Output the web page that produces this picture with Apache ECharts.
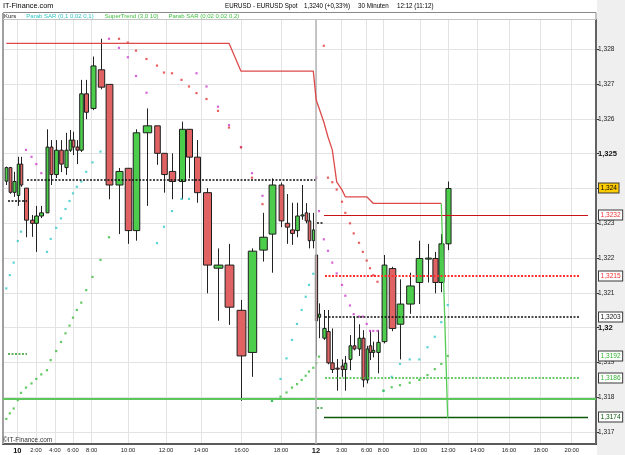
<!DOCTYPE html>
<html><head><meta charset="utf-8">
<script src="https://cdn.jsdelivr.net/npm/echarts@6/dist/echarts.min.js"></script>
<style>html,body{margin:0;padding:0;background:#fff}#c{width:625px;height:455px}</style>
</head><body><div id="c"></div>
<script>
// ---------- DATA ----------
// position of each 30-min bar along the (activity-compressed) time axis
const barPos = [6.3, 9.8, 13.7, 17.8, 21, 26, 31.5, 36.3, 41.3, 47, 50.7, 56.2, 61, 65.5, 69.5, 73, 76.8, 81.3, 86.2, 92.5,
  100.5, 109, 119, 127.8, 136, 146.5, 157, 164, 172, 181.5, 189, 196.5, 206.5, 218, 229, 241, 252, 262.5, 272, 280.5,
  286.5, 292, 297, 301.7, 305.7, 309, 313.3,
  316.2, 319, 323.8, 328, 332.3, 336.7, 342, 345.3, 350, 353.7, 359, 362.8, 366.7, 370, 373.3, 377.5, 383.5, 391.7, 400,
  409.7, 419.3, 427.5, 434.8, 441.3, 447.7];
const opens = [1.32421,1.32460,1.32389,1.32380,1.32470,1.32401,1.32309,1.32300,1.32321,1.32330,
  1.32519,1.32440,1.32510,1.32460,1.32510,1.32539,1.32519,1.32510,1.32672,1.32630,
  1.32741,1.32699,1.32410,1.32458,1.32279,1.32560,1.32580,1.32501,1.32449,1.32420,
  1.32570,1.32490,1.32388,1.32171,1.32180,1.32050,1.31929,1.32223,1.32269,1.32410,
  1.32300,1.32281,1.32279,1.32321,1.32330,1.32307,1.32250,
  1.32209,1.32030,1.31970,1.31989,1.31899,1.31884,1.31890,1.31880,1.31909,1.31948,
  1.31939,1.31970,1.31850,1.31948,1.31929,1.31929,1.31960,1.32170,1.32010,1.32068,
  1.32130,1.32199,1.32199,1.32130,1.32241];
const highs = [1.32463,1.32462,1.32448,1.32491,1.32491,1.32401,1.32324,1.32350,1.32350,1.32570,
  1.32539,1.32539,1.32539,1.32560,1.32568,1.32563,1.32539,1.32712,1.32712,1.32779,
  1.32830,1.32699,1.32459,1.32458,1.32570,1.32630,1.32580,1.32501,1.32501,1.32592,
  1.32570,1.32539,1.32401,1.32228,1.32241,1.32080,1.32228,1.32330,1.32429,1.32417,
  1.32384,1.32359,1.32359,1.32410,1.32358,1.32330,1.32330,
  1.32209,1.32070,1.32051,1.32051,1.31998,1.31910,1.31909,1.31919,1.31979,1.32032,
  1.32010,1.31993,1.31948,1.31993,1.31960,1.31993,1.32209,1.32175,1.32139,1.32158,
  1.32250,1.32241,1.32218,1.32269,1.32420];
const lows = [1.32410,1.32385,1.32376,1.32350,1.32405,1.32260,1.32261,1.32218,1.32315,1.32330,
  1.32410,1.32430,1.32447,1.32439,1.32505,1.32496,1.32470,1.32505,1.32599,1.32625,
  1.32685,1.32369,1.32269,1.32241,1.32250,1.32350,1.32468,1.32388,1.32369,1.32369,
  1.32429,1.32359,1.32099,1.32020,1.32008,1.31790,1.31859,1.32190,1.32158,1.32289,
  1.32241,1.32238,1.32260,1.32310,1.32300,1.32228,1.32228,
  1.31918,1.31970,1.31965,1.31895,1.31870,1.31819,1.31859,1.31819,1.31878,1.31935,
  1.31919,1.31829,1.31840,1.31907,1.31915,1.31869,1.31955,1.31990,1.31909,1.32040,
  1.32068,1.32130,1.32099,1.32102,1.32223];
const closes = [1.32460,1.32389,1.32420,1.32470,1.32410,1.32309,1.32300,1.32321,1.32330,1.32519,
  1.32440,1.32510,1.32470,1.32510,1.32539,1.32519,1.32510,1.32672,1.32619,1.32752,
  1.32691,1.32410,1.32449,1.32279,1.32560,1.32580,1.32501,1.32440,1.32420,1.32570,
  1.32490,1.32388,1.32180,1.32180,1.32059,1.31919,1.32220,1.32260,1.32410,1.32307,
  1.32289,1.32271,1.32321,1.32324,1.32307,1.32250,1.32281,
  1.32020,1.32039,1.31998,1.31899,1.31880,1.31881,1.31880,1.31898,1.31948,1.31939,
  1.31970,1.31850,1.31939,1.31929,1.31935,1.31958,1.32180,1.31998,1.32068,1.32120,
  1.32199,1.32200,1.32130,1.32241,1.32400];
// Parab SAR (0,1 0,02 0,1)
const sarFast = [1.32113,1.32151,1.32187,1.32249,1.32276,1.32511,1.32491,1.32470,1.32444,1.32218,
  1.32255,1.32287,1.32314,1.32341,1.32364,1.32386,1.32405,1.32420,1.32448,1.32475,
  1.32506,1.32830,1.32804,1.32777,1.32723,1.32675,1.32243,1.32290,1.32335,1.32370,
  1.32370,1.32731,1.32693,1.32635,1.32582,1.32519,1.32444,1.32379,1.31790,1.31853,
  1.31912,1.31965,1.32011,1.32051,1.32089,1.32123,1.32155,
  1.32431,1.32335,1.32254,1.32221,1.32187,1.32156,1.32123,1.32092,1.32064,1.32039,
  1.32032,1.32032,1.32011,1.31991,1.31991,1.31991,1.31819,1.31859,1.31896,1.31909,
  1.31909,1.31944,1.31974,1.32016,1.32065];
// Parab SAR (0,02 0,02 0,2)
const sarSlow = [1.31738,1.31754,1.31768,1.31792,1.31813,1.31828,1.31840,1.31853,1.31866,1.31878,
  1.31907,1.31933,1.31959,1.31984,1.32006,1.32029,1.32051,1.32072,1.32108,1.32146,
  1.32195,1.32260,1.32830,1.32819,1.32796,1.32772,1.32753,1.32733,1.32731,1.32712,
  1.32693,1.32674,1.32657,1.32623,1.32575,1.32518,1.32431,1.32355,1.31790,1.31802,
  1.31814,1.31828,1.31838,1.31850,1.31862,1.31874,1.31885,
  1.31898,1.31917,1.32810,1.32431,1.32418,1.32397,1.32362,1.32330,1.32300,1.32271,
  1.32244,1.32218,1.32193,1.32171,1.32151,1.32132,1.31819,1.31829,1.31835,1.31842,
  1.31850,1.31864,1.31881,1.31896,1.31919];
// SuperTrend (3,0 10)
const superTrend = [1.32817,1.32817,1.32817,1.32817,1.32817,1.32817,1.32817,1.32817,1.32817,1.32817,
  1.32817,1.32817,1.32817,1.32817,1.32817,1.32817,1.32817,1.32817,1.32817,1.32817,
  1.32817,1.32817,1.32817,1.32817,1.32817,1.32817,1.32817,1.32817,1.32817,1.32817,
  1.32817,1.32817,1.32817,1.32817,1.32817,1.32737,1.32737,1.32737,1.32737,1.32737,
  1.32737,1.32737,1.32737,1.32737,1.32737,1.32737,1.32737,
  1.32654,1.32631,1.32591,1.32548,1.32511,1.32419,1.32396,1.32376,1.32376,1.32376,
  1.32376,1.32376,1.32376,1.32367,1.32357,1.32357,1.32357,1.32357,1.32357,1.32357,
  1.32357,1.32357,1.32357,1.32357,1.31741];
// horizontal levels
const levelValue = [1.32426, 1.32364, 1.31926, 1.32301, 1.31769, 1.32324, 1.32150, 1.32032, 1.31857, 1.31743, 1.31797];
const levelFrom  = [27, 8, 8, 317, 317, 324, 325, 325, 325, 324, 3];
const levelTo    = [316, 27, 27, 324, 324, 588, 580, 580, 580, 588, 596];
// price tags on the right axis
const tagValues = [1.32400, 1.32324, 1.32150, 1.32032, 1.31919, 1.31857, 1.31743];
// axis ticks
const xTickPos = [17.3, 36, 55, 73, 91.7, 128, 166, 201, 241.5, 281, 316, 341.7, 366.7, 383.3, 420, 448.3, 477.3, 509, 540.7, 571.7];
const xTickText = ['10','2:00','4:00','6:00','8:00','10:00','12:00','14:00','16:00','18:00','12','3:00','6:00','8:00','10:00','12:00','14:00','16:00','18:00','20:00'];
const yTicks = [1.317, 1.318, 1.319, 1.320, 1.321, 1.322, 1.323, 1.324, 1.325, 1.326, 1.327, 1.328];
// header texts
const headerParts = ['EURUSD - EURUSD Spot', '1,3240 (+0,33%)', '30 Minuten', '12:12 (11:12)'];

// ---------- STYLE / BUILD ----------
const FONT = '"Liberation Sans",Arial,sans-serif';
const X_MIN = 3, X_MAX = 596, Y_MIN = 1.31666, Y_MAX = 1.32884;
const N_SAR1 = 'Parab SAR (0,1 0,02 0,1)', N_ST = 'SuperTrend (3,0 10)', N_SAR2 = 'Parab SAR (0,02 0,02 0,2)';
const fmtPrice = v => String(+(+v).toFixed(4)).replace('.', ',');

const n = barPos.length;
const bodyW = barPos.map((x, i) => {
  const gp = i > 0 ? x - barPos[i - 1] : barPos[1] - barPos[0];
  const gn = i < n - 1 ? barPos[i + 1] - x : gp;
  return 0.8 * Math.min(gp, gn);
});
const candleData = barPos.map((x, i) => [x, opens[i], closes[i], lows[i], highs[i], bodyW[i]]);
const mid = i => (opens[i] + closes[i]) / 2;
const sarFastData = barPos.map((x, i) => ({value: [x, sarFast[i]], itemStyle: {color: sarFast[i] > mid(i) ? '#cc3fcc' : '#35c9c9'}}));
const sarSlowData = barPos.map((x, i) => ({value: [x, sarSlow[i]], itemStyle: {color: sarSlow[i] > mid(i) ? '#e23a3a' : '#3cbb3c'}}));
const stRed = [], stGreen = [];
for (let i = 0; i < n; i++) {
  const down = superTrend[i] > closes[i];
  stRed.push(down ? [barPos[i], superTrend[i]] : null);
  const nextUp = i < n - 1 && superTrend[i + 1] < closes[i + 1];
  stGreen.push((!down || nextUp) ? [barPos[i], superTrend[i]] : null);
}
const levelStyles = [
  {color: '#111', type: [2, 1.5], width: 1.5},
  {color: '#111', type: [2, 1.5], width: 1.5},
  {color: '#2a9a2a', type: [2, 1.5], width: 1.5},
  {color: '#111', type: [2, 1.5], width: 1.5},
  {color: '#2a9a2a', type: [2, 1.5], width: 1.5},
  {color: '#c81414', type: 'solid', width: 1.2},
  {color: '#ff3030', type: [2, 1.5], width: 2},
  {color: '#111', type: [2, 1.5], width: 1.5},
  {color: '#3cbb3c', type: [2, 1.5], width: 1.5},
  {color: '#0a5a0a', type: 'solid', width: 1.3},
  {color: '#5cc85c', type: 'solid', width: 2}
];
const levelLines = levelValue.map((v, i) => [
  {coord: [levelFrom[i], v], lineStyle: levelStyles[i]},
  {coord: [levelTo[i], v]}
]);
levelLines.push([{coord: [316, Y_MIN], lineStyle: {color: '#b4b4b4', width: 1.5, type: 'solid'}}, {coord: [316, Y_MAX]}]);
const tagStyles = [
  {bg: '#ffcc00', color: '#000'},
  {bg: '#fff', color: '#e33'},
  {bg: '#fff', color: '#e33'},
  {bg: '#fff', color: '#111'},
  {bg: '#fff', color: '#33b533'},
  {bg: '#fff', color: '#33b533'},
  {bg: '#fff', color: '#0a5a0a'}
];
const headerX = [225, 304, 358, 397];
const headerText = headerParts.map((t, i) => ({
  type: 'text', x: headerX[i], y: 5.5, scaleX: 0.84, z: 2,
  style: {text: t, font: '7.4px ' + FONT, fill: '#000', verticalAlign: 'middle'}
}));

const chart = echarts.init(document.getElementById('c'), null, {renderer: 'canvas'});
chart.setOption({
  animation: false,
  backgroundColor: '#fff',
  legend: {
    left: -1, top: 13, padding: 0, itemGap: 5, itemWidth: 0, itemHeight: 0, selectedMode: false,
    textStyle: {fontFamily: FONT, fontSize: 6, padding: 0},
    data: [
      {name: 'Kurs', textStyle: {color: '#222'}},
      {name: N_SAR1, textStyle: {color: '#30c4c4'}},
      {name: N_ST, textStyle: {color: '#3fbf3f'}},
      {name: N_SAR2, textStyle: {color: '#3fbf3f'}}
    ]
  },
  graphic: {elements: [
    {type: 'rect', z: -1, shape: {x: 597, y: 0, width: 28, height: 455}, style: {fill: '#efefef'}},
    {type: 'rect', z: 1, shape: {x: 3.5, y: 12.5, width: 592.5, height: 431.5}, style: {fill: 'none', stroke: '#8a8a8a', lineWidth: 1}},
    {type: 'line', z: 1, shape: {x1: 3, y1: 13, x2: 3, y2: 444}, style: {stroke: '#a0a0a0', lineWidth: 2}},
    {type: 'line', z: 1, shape: {x1: 3, y1: 19.5, x2: 596, y2: 19.5}, style: {stroke: '#c4c4c4', lineWidth: 1}},
    {type: 'text', x: 3, y: 5.5, z: 2, style: {text: 'IT-Finance.com', font: '7.3px ' + FONT, fill: '#000', verticalAlign: 'middle'}},
    {type: 'text', x: 3, y: 440, z: 2, scaleX: 0.92, style: {text: '©IT-Finance.com', font: '7px ' + FONT, fill: '#333', verticalAlign: 'middle'}}
  ].concat(headerText)},
  grid: {left: X_MIN, right: 625 - X_MAX, top: 20, bottom: 11, outerBoundsMode: 'none', containLabel: false,
         show: true, backgroundColor: '#fff', borderWidth: 0},
  xAxis: {
    type: 'value', min: X_MIN, max: X_MAX,
    axisLine: {show: true, onZero: false, lineStyle: {color: '#2a2a2a', width: 2}},
    axisTick: {show: false, customValues: xTickPos},
    splitLine: {show: true, lineStyle: {color: '#e3e3e3', width: 1}},
    axisLabel: {
      customValues: xTickPos, margin: 3, fontFamily: FONT, fontSize: 5.8, color: '#222',
      formatter: v => {
        let k = 0, d = 1e9;
        xTickPos.forEach((p, i) => { if (Math.abs(p - v) < d) { d = Math.abs(p - v); k = i; } });
        const t = xTickText[k];
        return t.indexOf(':') < 0 ? '{b|' + t + '}' : t;
      },
      rich: {b: {fontFamily: FONT, fontSize: 7.5, fontWeight: 'bold', color: '#111'}}
    }
  },
  yAxis: {
    type: 'value', position: 'right', min: Y_MIN, max: Y_MAX, scale: true,
    axisLine: {show: true, onZero: false, lineStyle: {color: '#3a3a3a', width: 2}},
    axisTick: {show: true, length: 3, customValues: yTicks, lineStyle: {color: '#333'}},
    splitLine: {show: true, lineStyle: {color: '#e3e3e3', width: 1}},
    axisLabel: {
      customValues: yTicks, margin: 2, fontFamily: FONT, fontSize: 6.6, color: '#222',
      formatter: v => {
        const s = fmtPrice(v);
        return Math.abs(v * 200 - Math.round(v * 200)) < 1e-6 ? '{b|' + s + '}' : s;
      },
      rich: {b: {fontFamily: FONT, fontSize: 7.6, fontWeight: 'bold', color: '#111'}}
    }
  },
  series: [
    {
      type: 'custom', name: 'Kurs', data: candleData, encode: {x: 0, y: [1, 2, 3, 4]}, z: 3,
      renderItem: (params, api) => {
        const x = api.value(0), o = api.value(1), c = api.value(2), l = api.value(3), h = api.value(4), w = api.value(5);
        const po = api.coord([x, o]), pc = api.coord([x, c]), pl = api.coord([x, l]), ph = api.coord([x, h]);
        const bw = Math.max(1.6, api.size([w, 0])[0]);
        const up = c >= o;
        const top = Math.min(po[1], pc[1]), bot = Math.max(po[1], pc[1]);
        const cx = Math.round(po[0]) + 0.5;
        return {type: 'group', children: [
          {type: 'line', shape: {x1: cx, y1: ph[1], x2: cx, y2: pl[1]}, style: {stroke: '#222', lineWidth: 1}},
          {type: 'rect', shape: {x: cx - bw / 2, y: top, width: bw, height: Math.max(1, bot - top)},
           style: {fill: up ? '#4ccd4c' : '#e06262', stroke: '#1e1e1e', lineWidth: 1}}
        ]};
      }
    },
    {type: 'scatter', name: N_SAR1, data: sarFastData, symbol: 'rect', symbolSize: 2.2, z: 4, silent: true},
    {type: 'scatter', name: N_SAR2, data: sarSlowData, symbol: 'rect', symbolSize: 2.2, z: 4, silent: true},
    {
      type: 'line', name: N_ST, data: stRed, showSymbol: false, connectNulls: false, z: 5, silent: true,
      lineStyle: {color: '#dd4a4a', width: 1.3}, itemStyle: {color: '#dd4a4a'},
      markLine: {silent: true, symbol: ['none', 'none'], label: {show: false}, data: levelLines}
    },
    {type: 'line', name: N_ST, data: stGreen, showSymbol: false, connectNulls: false, z: 5, silent: true,
     lineStyle: {color: '#55cc55', width: 1.3}, itemStyle: {color: '#55cc55'}},
    {
      type: 'custom', name: 'tags', clip: false, silent: true, z: 10,
      data: tagValues.map(v => [X_MAX, v]), encode: {x: 0, y: 1},
      renderItem: (params, api) => {
        const st = tagStyles[params.dataIndex];
        const p = api.coord([api.value(0), api.value(1)]);
        return {type: 'text', x: p[0] + 3, y: Math.round(p[1]), style: {
          text: fmtPrice(api.value(1)), fill: st.color, backgroundColor: st.bg,
          borderColor: '#3a3a3a', borderWidth: 1, padding: [1.5, 1.5, 0.5, 1.5],
          font: '6.6px ' + FONT, align: 'left', verticalAlign: 'middle'
        }};
      }
    }
  ]
});
</script>
</body></html>
